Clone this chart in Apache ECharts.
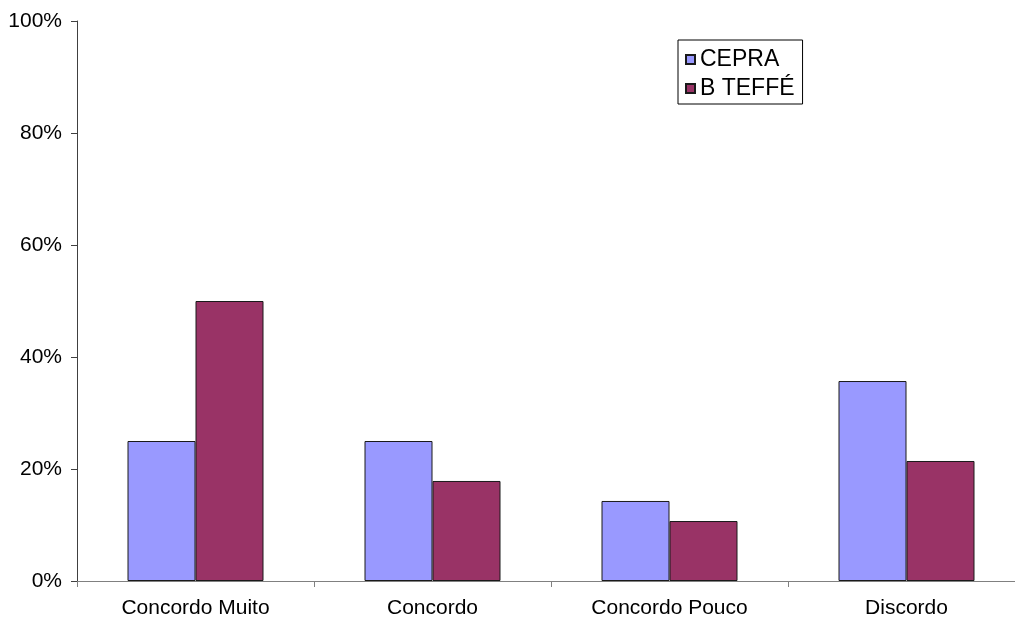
<!DOCTYPE html>
<html>
<head>
<meta charset="utf-8">
<script src="https://cdn.jsdelivr.net/npm/echarts@6/dist/echarts.min.js"></script>
<style>
  html, body { margin: 0; padding: 0; background: #ffffff; overflow: hidden; }
  /* the plot area runs slightly past the right edge of the window */
  #chart { width: 1025px; height: 622px; }
</style>
</head>
<body>
<div id="chart"></div>
<script>
// Survey answers, share of respondents per group (%)
const categories = ['Concordo Muito', 'Concordo', 'Concordo Pouco', 'Discordo'];
const seriesNames = ['CEPRA', 'B TEFFÉ'];
const cepraValues = [25, 25, 14.29, 35.71];
const teffeValues = [50, 17.86, 10.71, 21.43];
const yTicks = { min: 0, max: 100, interval: 20 };

const FONT = '"Liberation Sans", Arial, sans-serif';

const chart = echarts.init(document.getElementById('chart'));
chart.setOption({
  animation: false,
  backgroundColor: '#ffffff',
  textStyle: { fontFamily: FONT, color: '#000' },
  grid: { left: 77, right: 0, top: 21, bottom: 41, containLabel: false },
  legend: {
    orient: 'vertical',
    left: 678,
    top: 40,
    data: seriesNames,
    icon: 'rect',
    itemWidth: 9,
    itemHeight: 9,
    itemGap: 6,
    itemTextGap: 11,
    padding: [8, 8, 4, 7],
    borderColor: '#000',
    borderWidth: 1,
    backgroundColor: '#fff',
    textStyle: { fontFamily: FONT, fontSize: 23, color: '#000', lineHeight: 23 }
  },
  xAxis: {
    type: 'category',
    data: categories,
    axisLine: { lineStyle: { color: '#808080', width: 1 } },
    axisTick: { show: true, length: 6, lineStyle: { color: '#808080' } },
    axisLabel: { fontFamily: FONT, fontSize: 21, color: '#000', margin: 17 },
    splitLine: { show: false }
  },
  yAxis: {
    type: 'value',
    min: yTicks.min,
    max: yTicks.max,
    interval: yTicks.interval,
    axisLine: { show: true, lineStyle: { color: '#404040', width: 1 } },
    axisTick: { show: true, length: 6, lineStyle: { color: '#404040' } },
    axisLabel: { fontFamily: FONT, fontSize: 21, color: '#000', margin: 15, formatter: '{value}%' },
    splitLine: { show: false }
  },
  series: [
    {
      name: seriesNames[0],
      type: 'bar',
      data: cepraValues,
      barWidth: 68,
      barGap: '0%',
      itemStyle: { color: '#9999FF', borderColor: '#1a1a1a', borderWidth: 1 }
    },
    {
      name: seriesNames[1],
      type: 'bar',
      data: teffeValues,
      barWidth: 68,
      barGap: '0%',
      itemStyle: { color: '#993366', borderColor: '#1a1a1a', borderWidth: 1 }
    }
  ]
});
</script>
</body>
</html>
